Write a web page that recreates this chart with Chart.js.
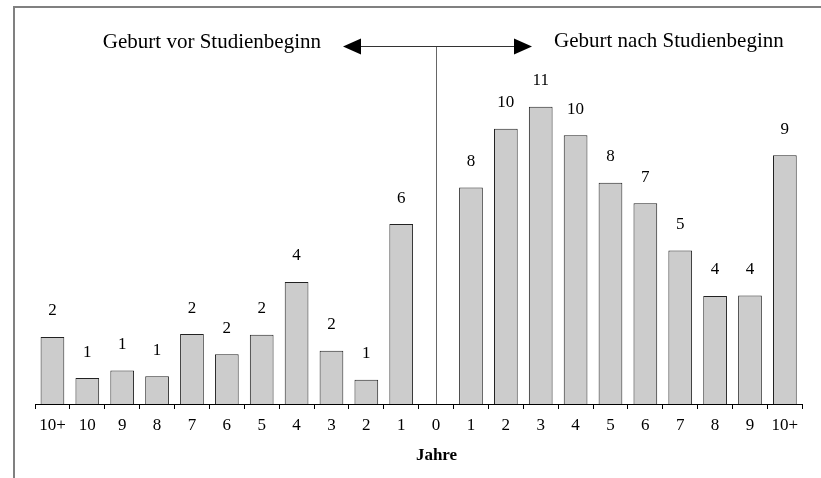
<!DOCTYPE html>
<html>
<head>
<meta charset="utf-8">
<script src="https://cdn.jsdelivr.net/npm/chart.js@4"></script>
<style>
  body { margin: 0; background: #fff; }
  #wrap { width: 821px; height: 478px; position: relative; }
</style>
</head>
<body>
<div id="wrap"><canvas id="myChart"></canvas></div>
<script>
// Jahre zwischen Geburt und Studienbeginn
var jahre = ['10+', '10', '9', '8', '7', '6', '5', '4', '3', '2', '1', '0',
             '1', '2', '3', '4', '5', '6', '7', '8', '9', '10+'];
var anteil = [2.38, 0.92, 1.19, 0.98, 2.48, 1.76, 2.46, 4.33, 1.89, 0.86, 6.38, 0,
              7.68, 9.76, 10.54, 9.53, 7.85, 7.12, 5.44, 3.83, 3.85, 8.82];
var textVor = 'Geburt vor Studienbeginn';
var textNach = 'Geburt nach Studienbeginn';
var achsenTitel = 'Jahre';

var serif = "'Liberation Serif', 'Times New Roman', serif";
Chart.defaults.font.family = serif;
Chart.defaults.color = '#000';

// rahmen, pfeil, nulllinie und beschriftungen
var deko = {
  id: 'deko',
  afterDraw: function (chart) {
    var c = chart.ctx;
    var x = chart.scales.x;
    var area = chart.chartArea;
    c.save();

    // rahmen (nur links und oben sichtbar)
    c.strokeStyle = '#808080';
    c.lineWidth = 2;
    c.strokeRect(14, 7, 900, 600);

    // nulllinie
    var x0 = Math.round(x.getPixelForValue(11)) + 0.5;
    c.strokeStyle = '#666';
    c.lineWidth = 1;
    c.beginPath();
    c.moveTo(x0, 46);
    c.lineTo(x0, area.bottom);
    c.stroke();

    // pfeil
    c.strokeStyle = '#333';
    c.beginPath();
    c.moveTo(360, 46.5);
    c.lineTo(515, 46.5);
    c.stroke();
    c.fillStyle = '#000';
    c.beginPath();
    c.moveTo(343, 46.5); c.lineTo(361, 38.5); c.lineTo(361, 54.5); c.closePath();
    c.fill();
    c.beginPath();
    c.moveTo(532, 46.5); c.lineTo(514, 38.5); c.lineTo(514, 54.5); c.closePath();
    c.fill();

    c.font = '21px ' + serif;
    c.textBaseline = 'alphabetic';
    c.textAlign = 'right';
    c.fillText(textVor, 321, 48);
    c.textAlign = 'left';
    c.fillText(textNach, 554, 47);

    // werte ueber den balken
    c.font = '17px ' + serif;
    c.textAlign = 'center';
    c.textBaseline = 'middle';
    chart.getDatasetMeta(0).data.forEach(function (bar, i) {
      if (anteil[i] > 0) {
        c.fillText(Math.round(anteil[i]), bar.x, bar.y - 26);
      }
    });

    // achsentitel unter der null
    c.font = 'bold 17px ' + serif;
    c.fillText(achsenTitel, x0, 456);
    c.restore();
  }
};

var ctx = document.getElementById('myChart').getContext('2d');
var myChart = new Chart(ctx, {
  type: 'bar',
  data: {
    labels: jahre,
    datasets: [{
      data: anteil,
      backgroundColor: '#cccccc',
      borderColor: '#222',
      borderWidth: 1,
      barPercentage: 0.68,
      categoryPercentage: 1
    }]
  },
  options: {
    responsive: true,
    maintainAspectRatio: false,
    animation: false,
    layout: { padding: { left: 35, right: 18.7, top: 65.6, bottom: 0 } },
    plugins: { legend: { display: false }, tooltip: { enabled: false } },
    scales: {
      x: {
        offset: true,
        grid: { display: true, drawOnChartArea: false, drawTicks: true, tickLength: 5, color: '#000' },
        border: { display: true, color: '#000', width: 1 },
        ticks: { font: { size: 17 }, color: '#000', padding: 6, maxRotation: 0, autoSkip: false },
        afterFit: function (scale) { scale.height = 74; }
      },
      y: {
        display: false,
        min: 0,
        max: 12
      }
    }
  },
  plugins: [deko]
});
</script>
</body>
</html>
